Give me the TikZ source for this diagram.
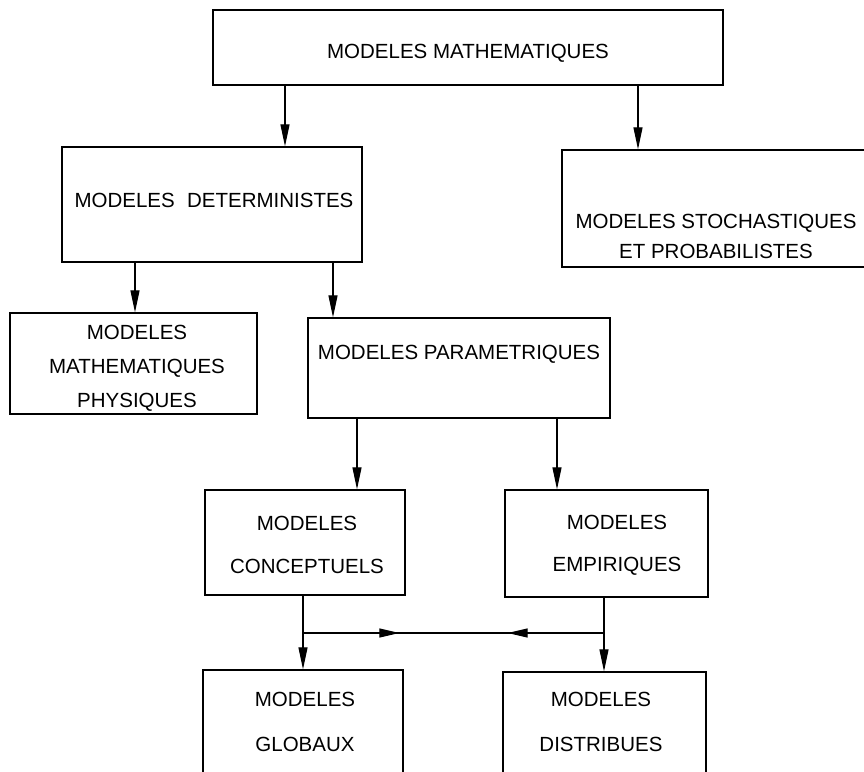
\documentclass[tikz,border=0pt]{standalone}
\usepackage{fontspec}
\setmainfont{Liberation Sans}
\usetikzlibrary{arrows.meta,decorations.markings}
\begin{document}
\begin{tikzpicture}[x=1pt,y=-1pt,
  box/.style={draw, line width=1.3pt, rectangle, inner sep=0pt},
  txt/.style={font=\fontsize{20.5}{#1}\selectfont, align=center, inner sep=0pt},
  txt/.default=30,
  arr/.style={line width=1.2pt, -{Triangle[length=22pt,width=9pt]}},
  conn/.style={line width=1.2pt},
  midarrows/.style={postaction={decorate}, decoration={markings,
     mark=at position 0.32 with {\arrow{Triangle[length=20pt,width=9pt]}},
     mark=at position 0.68 with {\arrowreversed{Triangle[length=20pt,width=9pt]}}}}]
\useasboundingbox (0,0) rectangle (864,771);
\clip (0,0) rectangle (864,771);
% boxes
\node[box, minimum width=510pt, minimum height=75pt] (math) at (468,47.5) {};
\node[box, minimum width=300pt, minimum height=115pt] (det) at (212,204.5) {};
\node[box, minimum width=318pt, minimum height=117pt] (stoch) at (721,208.5) {};
\node[box, minimum width=247pt, minimum height=101pt] (phys) at (133.5,363.5) {};
\node[box, minimum width=302pt, minimum height=100pt] (param) at (459,368) {};
\node[box, minimum width=200pt, minimum height=105pt] (conc) at (305,542.5) {};
\node[box, minimum width=203pt, minimum height=107pt] (emp) at (606.5,543.5) {};
\node[box, minimum width=200pt, minimum height=130pt] (glob) at (303,735) {};
\node[box, minimum width=203pt, minimum height=128pt] (dist) at (604.5,736) {};
% texts
\node[txt] (mathT) at (468,53) {MODELES MATHEMATIQUES};
\node[txt] (detT) at (214,200) {MODELES\hspace{0.6em}DETERMINISTES};
\node[txt=30] (stochT) at (716,236) {MODELES STOCHASTIQUES\\ET PROBABILISTES};
\node[txt=34] (physT) at (137,368) {MODELES\\MATHEMATIQUES\\PHYSIQUES};
\node[txt] (paramT) at (459,354) {MODELES PARAMETRIQUES};
\node[txt=43] (concT) at (307,544.5) {MODELES\\CONCEPTUELS};
\node[txt=42] (empT) at (617,545) {MODELES\\EMPIRIQUES};
\node[txt=45] (globT) at (305,722) {MODELES\\GLOBAUX};
\node[txt=45] (distT) at (601,722) {MODELES\\DISTRIBUES};
% connector x positions
\coordinate (c285) at (285,0);
\coordinate (c638) at (638,0);
\coordinate (c135) at (135,0);
\coordinate (c333) at (333,0);
\coordinate (c357) at (357,0);
\coordinate (c557) at (557,0);
\coordinate (c303) at (303,0);
\coordinate (c604) at (604,0);
\draw[arr] (math.south -| c285) -- (det.north -| c285);
\draw[arr] (math.south -| c638) -- (stoch.north -| c638);
\draw[arr] (det.south -| c135) -- (phys.north -| c135);
\draw[arr] (det.south -| c333) -- (param.north -| c333);
\draw[arr] (param.south -| c357) -- (conc.north -| c357);
\draw[arr] (param.south -| c557) -- (emp.north -| c557);
\draw[arr] (conc.south -| c303) -- (glob.north -| c303);
\draw[arr] (emp.south -| c604) -- (dist.north -| c604);
\coordinate (jL) at (303,633);
\coordinate (jR) at (604,633);
\draw[conn, midarrows] (jL) -- (jR);
\end{tikzpicture}
\end{document}
